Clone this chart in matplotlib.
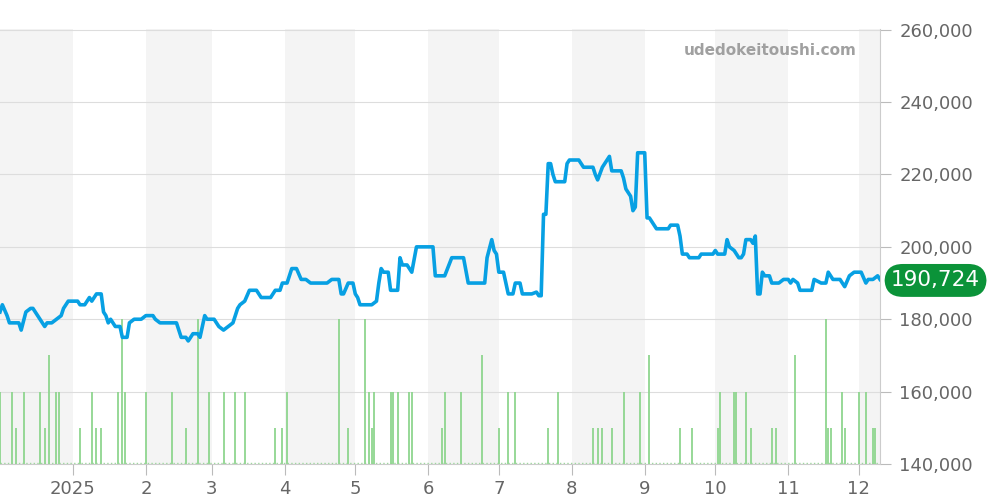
import numpy as np
import pandas as pd
import matplotlib
matplotlib.use("Agg")
import matplotlib.pyplot as plt
import matplotlib.dates as mdates

# ---- data (days counted from 2024-12-01) ----
price_days = [0,1,3,4,8,9,11,13,14,16,18,19,20,22,24,26,27,29,33,34,36,38,39,41,43,44,45,46,47,49,51,52,54,55,57,60,62,65,66,68,75,77,79,80,82,84,85,87,88,91,93,95,97,99,101,102,104,106,109,111,115,117,119,120,122,124,126,128,130,132,139,141,144,145,146,148,150,151,152,153,158,160,161,162,163,165,166,169,170,171,173,175,177,184,185,189,192,197,199,206,207,209,210,211,212,214,216,218,219,221,222,226,228,229,230,231,232,233,234,235,236,240,241,242,246,248,252,253,254,256,258,259,260,264,265,266,267,268,269,270,271,274,275,276,278,279,284,285,288,289,290,292,293,297,298,303,304,305,308,309,310,312,314,315,316,317,319,320,321,322,323,324,325,327,328,331,333,334,335,336,337,339,340,345,346,349,351,352,354,357,359,361,363,366,368,369,371,373,374]
price_k = [182,184,181,179,179,177,182,183,183,181,179,178,179,179,180,181,183,185,185,184,184,186,185,187,187,182,181,179,180,178,178,175,175,179,180,180,181,181,180,179,179,175,175,174,176,176,175,181,180,180,178,177,178,179,183,184,185,188,188,186,186,188,188,190,190,194,194,191,191,190,190,191,191,187,187,190,190,187,186,184,184,185,190,194,193,193,188,188,197,195,195,193,200,200,192,192,197,197,190,190,197,202,199,198,193,193,187,187,190,190,187,187,187.5,186.5,186.5,209,209,223,223,220,218,218,223,224,224,222,222,220,218.5,222,224,225,221,221,219,216,215,214,210,211,226,226,208,208,206,205,205,206,206,203,198,198,197,197,198,198,199,198,198,202,200,199,197,197,198,202,202,201,203,187,187,193,192,192,190,190,191,191,191,190,191,190,188,188,191,190,190,193,191,191,189,192,193,193,190,191,191,192,191]
last_price = 190724

vol_days = [0,5,7,10,17,19,21,24,25,34,39,41,43,50,52,53,62,73,79,84,89,95,100,104,117,120,122,144,148,155,157,158,159,166,167,169,174,175,188,189,196,205,212,
            216,219,233,237,252,254,256,260,265,272,276,289,294,305,306,312,313,317,319,328,330,338,351,352,353,358,359,365,368,371,372]
vol_count = [2,2,1,2,2,1,3,2,2,1,2,1,1,2,4,2,2,2,1,4,2,2,2,2,1,1,2,4,1,4,2,1,2,2,2,2,2,2,1,2,2,3,1,
             2,2,1,2,1,1,1,1,2,2,3,1,1,1,2,2,2,2,1,1,1,3,4,1,1,2,1,2,2,1,1]

start = pd.Timestamp("2024-12-01")
end = pd.Timestamp("2025-12-10")
price_dates = start + pd.to_timedelta(price_days, unit="D")
vol_dates = start + pd.to_timedelta(vol_days, unit="D")
prices = np.array(price_k) * 1000

base = 140000
fig = plt.figure(figsize=(10, 5), dpi=100)
ax = fig.add_axes([0.0, 0.072, 0.88, 0.87])

# alternate month shading
months = pd.date_range("2024-12-01", "2026-01-01", freq="MS")
for i in range(len(months) - 1):
    if i % 2 == 0:
        ax.axvspan(months[i], months[i + 1], color="#f4f4f4", zorder=0, lw=0)

# volume bars
ax.plot([start, end], [base + 300, base + 300], color="#9ed99e", lw=1, ls=":", zorder=1)
ax.vlines(vol_dates, base, base + np.array(vol_count) * 10000, color="#8fd68f", lw=1.3, zorder=2)

ax.plot(price_dates, prices, color="#07a0e3", lw=2.6, zorder=3, solid_joinstyle="round")

ax.set_xlim(start, end)
ax.set_ylim(base, 260200)
ax.yaxis.tick_right()
ax.set_yticks(range(140000, 260001, 20000))
ax.set_yticklabels([f"{v:,}" for v in range(140000, 260001, 20000)])
ax.grid(axis="y", color="#dddddd", lw=0.8)
ax.set_axisbelow(True)

ticks = pd.date_range("2025-01-01", "2025-12-01", freq="MS")
ax.set_xticks(ticks)
ax.set_xticklabels(["2025"] + [str(t.month) for t in ticks[1:]])
ax.tick_params(axis="both", colors="#bbbbbb", labelcolor="#666666", labelsize=13, length=8)
ax.tick_params(axis="y", length=8, pad=6)

for s in ["top", "left"]:
    ax.spines[s].set_visible(False)
ax.spines["right"].set_color("#cccccc")
ax.spines["bottom"].set_color("#cccccc")

ax.text(0.974, 0.95, "udedokeitoushi.com", transform=ax.transAxes, ha="right", va="center",
        fontsize=11, fontweight="bold", color="#a0a0a0")

ax.annotate(f"{last_price:,}", xy=(1.0, last_price), xycoords=("axes fraction", "data"),
            xytext=(40, 0), textcoords="offset points", ha="center", va="center",
            fontsize=15.5, color="white",
            bbox=dict(boxstyle="round,pad=0.3,rounding_size=0.85", fc="#0b9339", ec="none"))

fig.savefig("out.png")
